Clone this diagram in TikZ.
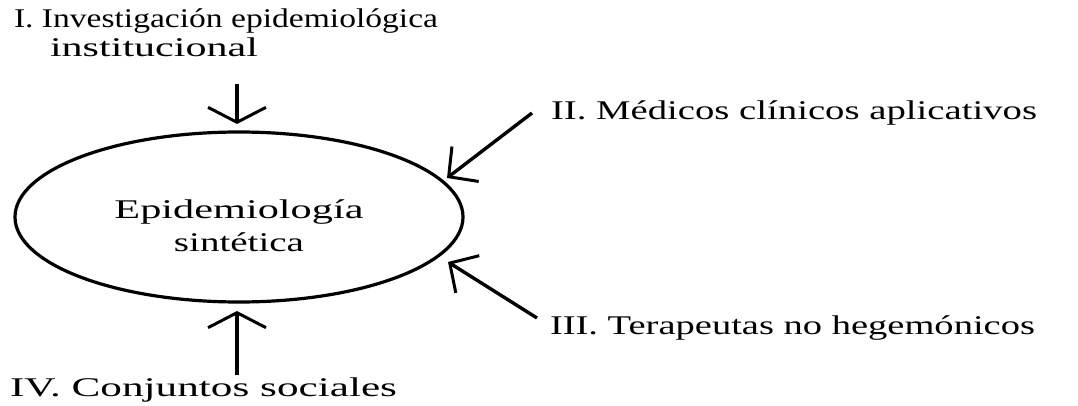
\documentclass[tikz,border=0pt]{standalone}
\usepackage{fontspec}
\setmainfont{Liberation Serif}
\usetikzlibrary{arrows.meta,shapes.geometric}
\newcommand{\wtxt}[2]{\resizebox{#1pt}{\height}{#2}}
\tikzset{
  lbl/.style={inner sep=0pt, outer sep=0pt, anchor=base west, font=\fontsize{27}{29}\selectfont},
  vhead/.style={-{Straight Barb[length=15pt,width=58pt,line width=3pt]}},
  dhead/.style={-{Straight Barb[length=21pt,width=44pt,line width=3pt]}},
  conn/.style={line width=3.4pt, black},
  bigoval/.style={ellipse, draw, line width=3.2pt, minimum width=448pt, minimum height=170pt, inner sep=0pt, align=center, font=\fontsize{27}{29}\selectfont}
}
\begin{document}
\begin{tikzpicture}[x=1pt,y=-1pt]
\useasboundingbox (0,0) rectangle (1078,406);
\node[bigoval] (E) at (239,217) {\rule{0pt}{36pt}\wtxt{249}{Epidemiología}\\[4pt]\wtxt{130}{sintética}};
\node[lbl] (l1a) at (14,28) {\wtxt{424}{I. Investigación epidemiológica}};
\node[lbl] (l1b) at (50,57) {\wtxt{208}{institucional}};
\node[lbl] (l2) at (551,120) {\wtxt{486}{II. Médicos clínicos aplicativos}};
\node[lbl] (l3) at (550,334) {\wtxt{485}{III. Terapeutas no hegemónicos}};
\node[lbl] (l4) at (10,396) {\wtxt{387}{IV. Conjuntos sociales}};
\coordinate (t1) at (237,84);
\coordinate (h1) at (237,124);
\coordinate (t2) at (532,113);
\coordinate (h2) at (447,178);
\coordinate (t3) at (537,318);
\coordinate (h3) at (448,262);
\coordinate (t4) at (237,375);
\coordinate (h4) at (237,311);
\draw[conn,vhead] (t1) -- (h1);
\draw[conn,dhead] (t2) -- (h2);
\draw[conn,dhead] (t3) -- (h3);
\draw[conn,vhead] (t4) -- (h4);
\end{tikzpicture}
\end{document}
